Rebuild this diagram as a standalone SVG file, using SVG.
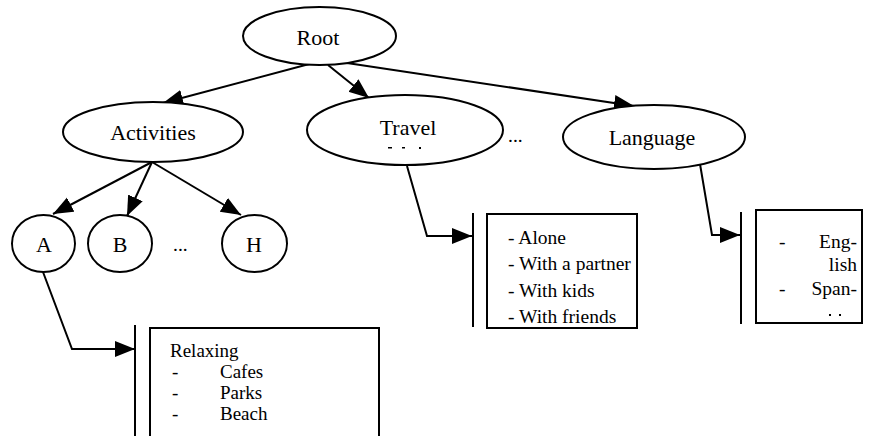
<svg xmlns="http://www.w3.org/2000/svg" width="871" height="436" viewBox="0 0 871 436">
<style>
.n{fill:#fff;stroke:#000;stroke-width:2}
.c{fill:none;stroke:#000;stroke-width:2}
.bar{stroke:#000;stroke-width:2}
text{font-family:"Liberation Serif","Times New Roman",serif;fill:#000}
.lbl{font-size:22px;text-anchor:middle}
.t{font-size:19.5px}
.s{font-size:19px}
</style>
<defs>
<marker id="ah" markerUnits="userSpaceOnUse" markerWidth="22" markerHeight="18" refX="20" refY="8" orient="auto">
<path d="M0,0 L20,8 L0,16 z" fill="#000"/>
</marker>
</defs>
<rect width="871" height="436" fill="#fff"/>
<g id="connectors">
<line class="c" x1="313" y1="63" x2="163" y2="103" marker-end="url(#ah)"/>
<line class="c" x1="328" y1="65" x2="369" y2="98" marker-end="url(#ah)"/>
<line class="c" x1="347" y1="63" x2="634" y2="106" marker-end="url(#ah)"/>
<line class="c" x1="152" y1="162" x2="53" y2="214" marker-end="url(#ah)"/>
<line class="c" x1="152" y1="162" x2="127" y2="216" marker-end="url(#ah)"/>
<line class="c" x1="152" y1="162" x2="241" y2="215" marker-end="url(#ah)"/>
<polyline class="c" points="43,272 72,349 135,349" marker-end="url(#ah)"/>
<polyline class="c" points="407,166 427,236 472,236" marker-end="url(#ah)"/>
<polyline class="c" points="700,164 712,235 740,235" marker-end="url(#ah)"/>
</g>
<g id="root">
<ellipse class="n" cx="319.5" cy="36" rx="76.5" ry="29"/>
<text class="lbl" x="318" y="45">Root</text>
</g>
<g id="activities">
<ellipse class="n" cx="153" cy="132" rx="90" ry="30"/>
<text class="lbl" x="153" y="140">Activities</text>
</g>
<g id="travel">
<ellipse class="n" cx="405" cy="130" rx="98" ry="35"/>
<text class="lbl" x="408" y="135">Travel</text>
<rect x="388" y="147" width="4" height="1.5" fill="#000"/>
<rect x="402" y="147" width="3" height="1.5" fill="#000"/>
<rect x="419" y="147" width="2" height="2" fill="#000"/>
</g>
<g id="dots1">
<text class="t" x="508" y="142">...</text>
</g>
<g id="language">
<ellipse class="n" cx="654" cy="137" rx="91" ry="32"/>
<text class="lbl" x="652" y="145">Language</text>
</g>
<g id="nodeA">
<ellipse class="n" cx="43.5" cy="243.5" rx="31.5" ry="28.5"/>
<text class="lbl" x="44" y="252">A</text>
</g>
<g id="nodeB">
<ellipse class="n" cx="120" cy="243.5" rx="32" ry="28.5"/>
<text class="lbl" x="120" y="252">B</text>
</g>
<g id="dots2">
<text class="t" x="173" y="251">...</text>
</g>
<g id="nodeH">
<ellipse class="n" cx="254.5" cy="243.5" rx="32.5" ry="28.5"/>
<text class="lbl" x="254" y="252">H</text>
</g>
<g id="travelBox">
<line class="bar" x1="473" y1="213" x2="473" y2="327"/>
<rect class="n" x="487" y="214" width="150" height="114"/>
<text class="t" x="508" y="244">- Alone</text>
<text class="t" x="508" y="270">- With a partner</text>
<text class="t" x="508" y="297">- With kids</text>
<text class="t" x="508" y="323">- With friends</text>
</g>
<g id="languageBox">
<line class="bar" x1="741" y1="212" x2="741" y2="324"/>
<rect class="n" x="756" y="210" width="106" height="113"/>
<text class="t" x="779" y="248">-</text>
<text class="t" x="857" y="248" text-anchor="end">Eng-</text>
<text class="t" x="857" y="271" text-anchor="end">lish</text>
<text class="t" x="779" y="295">-</text>
<text class="t" x="857" y="295" text-anchor="end">Span-</text>
<rect x="829" y="314" width="2" height="2" fill="#000"/>
<rect x="839" y="314" width="2" height="2" fill="#000"/>
</g>
<g id="activityBox">
<line class="bar" x1="135" y1="325" x2="135" y2="436"/>
<rect class="n" x="150" y="328" width="229" height="112"/>
<text class="s" x="170" y="357">Relaxing</text>
<text class="s" x="172" y="378">-</text>
<text class="s" x="220" y="378">Cafes</text>
<text class="s" x="172" y="399">-</text>
<text class="s" x="220" y="399">Parks</text>
<text class="s" x="172" y="420">-</text>
<text class="s" x="220" y="420">Beach</text>
</g>
</svg>
